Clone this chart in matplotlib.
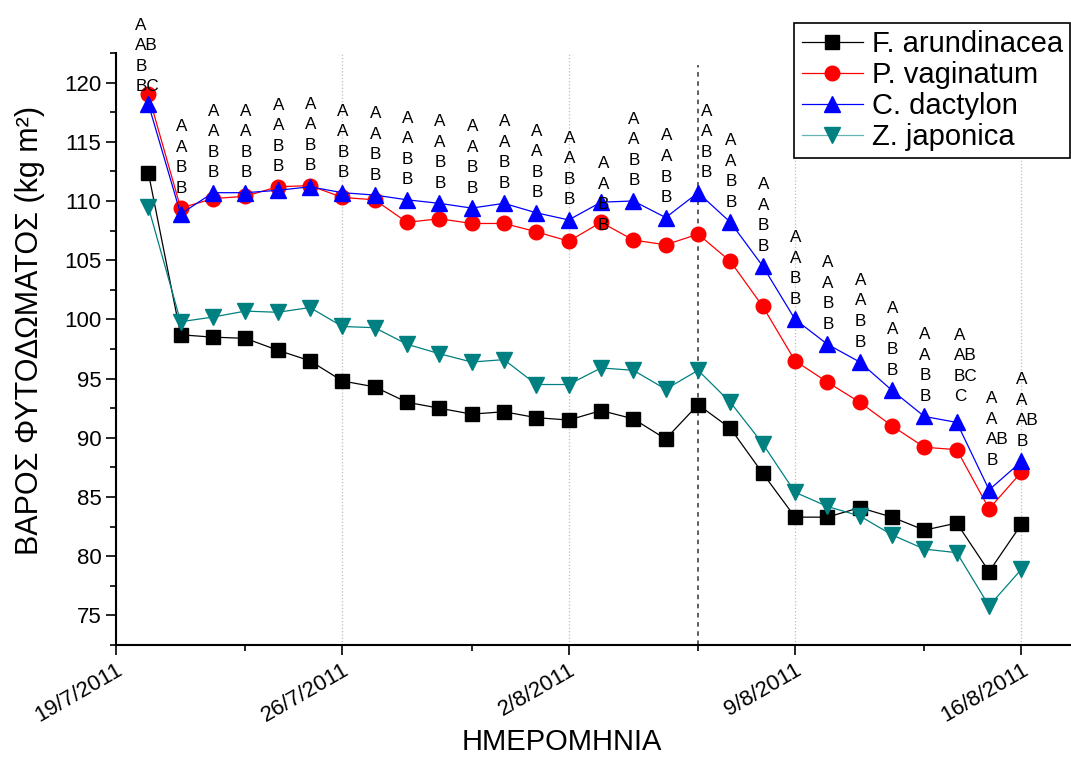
import matplotlib
matplotlib.use("Agg")
import matplotlib.pyplot as plt
import matplotlib.dates as mdates
from matplotlib.ticker import MultipleLocator, FixedLocator, FuncFormatter
import pandas as pd

plt.rcParams['font.family'] = ['Liberation Sans', 'DejaVu Sans']

# ημερομηνίες μετρήσεων (ημερήσιες)
dates = pd.date_range('2011-07-20', '2011-08-16', freq='D')

f_arundinacea = [112.4, 98.7, 98.5, 98.4, 97.4, 96.5, 94.8, 94.3, 93.0, 92.5,
                 92.0, 92.2, 91.7, 91.5, 92.3, 91.6, 89.9, 92.8, 90.8, 87.0,
                 83.3, 83.3, 84.1, 83.3, 82.2, 82.8, 78.7, 82.7]
p_vaginatum = [119.0, 109.4, 110.2, 110.4, 111.2, 111.3, 110.3, 110.1, 108.2, 108.5,
               108.1, 108.1, 107.4, 106.6, 108.2, 106.7, 106.3, 107.2, 104.9, 101.1,
               96.5, 94.7, 93.0, 91.0, 89.2, 89.0, 84.0, 87.1]
c_dactylon = [118.2, 108.9, 110.7, 110.7, 110.9, 111.2, 110.7, 110.5, 110.1, 109.8,
              109.4, 109.8, 109.0, 108.4, 109.9, 110.0, 108.6, 110.7, 108.2, 104.5,
              100.0, 97.9, 96.4, 94.0, 91.8, 91.3, 85.6, 88.0]
z_japonica = [109.5, 99.8, 100.2, 100.7, 100.6, 101.0, 99.4, 99.3, 97.9, 97.1,
              96.4, 96.6, 94.5, 94.5, 95.9, 95.7, 94.1, 95.7, 93.0, 89.5,
              85.4, 84.2, 83.4, 81.8, 80.6, 80.3, 75.8, 78.9]

# γράμματα στατιστικής σημαντικότητας ανά ημέρα
letters = (["A\nAB\nB\nBC"] + ["A\nA\nB\nB"] * 24 +
           ["A\nAB\nBC\nC", "A\nA\nAB\nB", "A\nA\nAB\nB"])

major_dates = pd.to_datetime(['2011-07-19', '2011-07-26', '2011-08-02', '2011-08-09', '2011-08-16'])
minor_dates = pd.to_datetime(['2011-07-23', '2011-07-30', '2011-08-06', '2011-08-13'])
cut_date = pd.Timestamp('2011-08-06')

fig, ax = plt.subplots(figsize=(10.71, 7.6), dpi=100)
fig.subplots_adjust(left=0.1083, right=0.999, bottom=0.1513, top=0.9303)

series = [
    (f_arundinacea, 'F. arundinacea', 'black', 's', 9.5),
    (p_vaginatum, 'P. vaginatum', 'red', 'o', 10.5),
    (c_dactylon, 'C. dactylon', 'blue', '^', 12),
    (z_japonica, 'Z. japonica', '#008080', 'v', 12),
]
for vals, name, col, mk, ms in series:
    ax.plot(dates, vals, color=col, marker=mk, markersize=ms, linewidth=0.9,
            label=name, clip_on=False, zorder=3)

# θέση γραμμάτων πάνω από το ψηλότερο σημείο
special = {0: (-9.5, 0), 14: (-2.5, -22), 17: (2, 9), 25: (-2, 13), 26: (-2, 16)}
for i, (d, lab) in enumerate(zip(dates, letters)):
    top = max(f_arundinacea[i], p_vaginatum[i], c_dactylon[i], z_japonica[i])
    dx, dy = special.get(i, (-3.6, 9))
    ax.annotate(lab, (d, top), xytext=(dx, dy), textcoords='offset points',
                ha='left', va='bottom', fontsize=12.3, linespacing=1.46,
                multialignment='left', zorder=4)

ax.axvline(cut_date, ymax=0.98, color='#333333', linestyle=(0, (3, 3)), linewidth=1.1, zorder=1)

ax.set_xlim(mdates.date2num(pd.Timestamp('2011-07-19')),
            mdates.date2num(pd.Timestamp('2011-07-19')) + 29.5)
ax.set_ylim(72.5, 122.5)

ax.xaxis.set_major_locator(FixedLocator(mdates.date2num(major_dates)))
ax.xaxis.set_minor_locator(FixedLocator(mdates.date2num(minor_dates)))

def fmt_date(x, pos):
    d = mdates.num2date(x)
    return f"{d.day}/{d.month}/{d.year}"

ax.xaxis.set_major_formatter(FuncFormatter(fmt_date))
ax.yaxis.set_major_locator(MultipleLocator(5))
ax.yaxis.set_minor_locator(MultipleLocator(2.5))

ax.grid(axis='x', which='major', linestyle=':', color='#bdbdbd', linewidth=0.9)
ax.set_axisbelow(True)

for s in ['top', 'right']:
    ax.spines[s].set_visible(False)
for s in ['left', 'bottom']:
    ax.spines[s].set_linewidth(1.5)

ax.tick_params(which='major', direction='out', length=7, width=1.2, labelsize=16)
ax.tick_params(which='minor', direction='out', length=4, width=1.2)
plt.setp(ax.get_xticklabels(), rotation=30, ha='right', va='top', rotation_mode='anchor')

ax.set_xlabel('ΗΜΕΡΟΜΗΝΙΑ', fontsize=21)
ax.xaxis.set_label_coords(0.4675, -0.163)
ax.xaxis.label.set_va('center')
ax.set_ylabel('ΒΑΡΟΣ ΦΥΤΟΔΩΜΑΤΟΣ (kg m²)', fontsize=22)
ax.yaxis.set_label_coords(-0.090, 0.532)
ax.yaxis.label.set_va('center')

leg = ax.legend(loc='upper right', bbox_to_anchor=(0.999, 0.970), bbox_transform=fig.transFigure,
                fontsize=21, frameon=True, fancybox=False, edgecolor='black', framealpha=1,
                borderaxespad=0, borderpad=0.25, labelspacing=0.1, handlelength=2.1,
                handletextpad=0.3, numpoints=1)
leg.get_frame().set_linewidth(1.2)
leg.get_lines()[3].set_color('#66b3b3')
leg.get_lines()[3].set_markerfacecolor('#008080')
leg.get_lines()[3].set_markeredgecolor('#008080')

fig.savefig('out.png', dpi=100)
